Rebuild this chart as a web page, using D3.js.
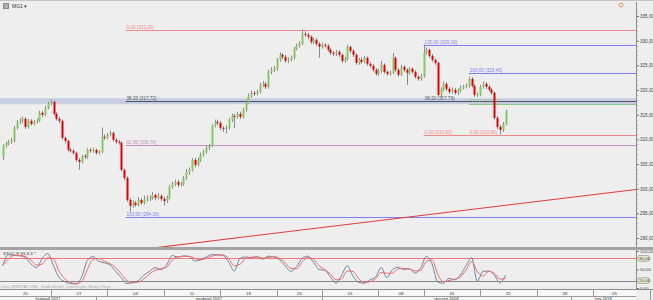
<!DOCTYPE html>
<html>
<head>
<meta charset="utf-8">
<script src="https://cdn.jsdelivr.net/npm/d3@7/dist/d3.min.js"></script>
<style>
body { margin: 0; background: #eeeeee; }
text { font-family: "Liberation Sans", Arial, sans-serif; }
</style>
</head>
<body>
<div id="chart"></div>
<script>
// candles, one every 2h slot (4 a day), first one sits in slot 3
var firstOpen = 306.6;
var closes = [308.67,309.08,309.48,309.69,312.32,313.54,313.74,314.15,312.52,313.74,
  313.13,313.54,313.74,315.36,314.96,316.38,317.19,317.60,315.16,314.15,
  313.74,310.29,309.69,307.86,307.66,307.25,305.83,305.43,306.64,306.44,
  307.86,307.66,307.86,307.25,307.45,310.50,310.29,310.90,311.31,309.89,
  309.48,309.28,303.80,302.18,297.72,296.50,297.11,296.71,297.72,297.11,
  297.72,297.92,298.13,298.73,298.13,298.53,297.92,297.52,298.13,300.36,
  300.96,301.37,300.76,300.96,302.18,303.40,303.80,305.83,304.82,305.83,
  306.85,307.45,308.27,308.67,312.73,313.54,313.34,312.32,312.12,312.32,
  313.94,314.76,314.55,315.16,314.55,315.97,317.60,318.81,319.42,319.22,
  319.62,321.04,321.24,320.64,323.68,324.08,324.29,326.11,327.13,326.72,
  325.91,326.11,326.52,328.34,328.95,329.36,331.39,331.18,330.78,329.76,
  330.17,329.36,328.75,329.15,328.95,328.14,327.53,327.33,327.73,327.13,
  325.91,326.31,328.75,327.94,327.13,325.50,326.11,325.71,326.52,325.30,
  324.89,324.08,323.27,323.88,325.10,323.68,323.27,323.48,326.52,324.08,
  323.07,324.69,324.08,323.48,324.29,323.68,322.66,322.26,322.87,327.53,
  328.14,326.92,326.11,325.50,319.01,320.03,321.24,320.23,319.62,320.03,
  319.42,319.83,320.43,320.64,320.84,322.26,320.84,319.01,319.01,320.64,
  321.24,320.64,320.03,319.42,314.35,312.52,311.92,313.13,315.72];
var highs = [309.0,309.5,309.9,310.3,312.7,313.9,314.3,314.6,314.5,314.1,
  314.1,313.9,314.2,315.8,315.7,316.8,317.6,318.0,317.8,315.5,
  314.6,314.0,310.6,309.9,308.3,308.0,307.5,306.2,306.9,307.0,
  308.2,308.2,308.3,308.1,307.8,312.4,311.0,311.3,311.8,311.6,
  310.2,309.9,309.6,304.1,302.5,298.1,297.6,297.5,298.3,298.1,
  298.6,298.6,298.6,299.3,299.0,299.1,298.9,298.4,298.6,300.8,
  301.4,301.8,301.8,301.4,302.6,304.0,304.3,306.2,306.2,306.3,
  307.3,307.9,308.6,309.1,313.0,314.0,314.0,313.7,312.7,312.8,
  314.3,315.2,315.2,315.6,315.6,316.4,318.0,319.3,319.9,319.8,
  320.1,321.5,321.8,321.6,324.1,324.6,324.8,326.5,327.6,327.5,
  327.1,326.6,327.0,328.7,329.4,329.9,332.3,331.9,331.6,331.1,
  330.6,330.5,329.7,329.6,329.5,329.3,328.5,327.9,328.1,328.1,
  327.4,326.7,329.2,329.0,328.3,327.4,326.5,326.6,326.9,326.8,
  325.7,325.3,324.4,324.3,325.9,325.4,324.0,323.9,327.5,326.8,
  324.4,325.1,325.0,324.4,324.7,324.6,324.0,323.0,323.3,329.2,
  328.6,328.4,327.3,326.4,325.8,320.5,321.7,321.6,320.6,320.5,
  320.4,320.3,320.9,321.1,321.3,322.7,322.6,321.2,319.5,321.0,
  321.7,321.6,321.0,320.4,319.7,314.7,312.9,313.5,316.0];
var lows = [305.8,308.3,308.8,309.1,309.4,312.0,313.1,313.4,312.1,312.2,
  312.8,312.8,313.2,313.5,314.5,314.7,316.1,316.9,314.8,313.8,
  313.3,310.0,309.2,307.5,307.3,306.9,305.4,303.8,305.1,306.0,
  306.1,307.3,307.3,306.9,306.9,307.2,309.9,310.0,310.6,309.5,
  309.1,308.9,303.5,301.7,297.3,295.3,296.1,296.3,296.4,296.7,
  296.8,297.4,297.5,297.8,297.6,297.8,297.5,296.6,297.1,297.9,
  300.0,300.5,300.3,300.4,300.6,301.8,302.8,303.5,304.3,304.5,
  305.4,306.5,307.1,307.8,308.4,312.4,312.9,311.9,311.5,311.2,
  312.0,313.5,312.3,314.2,314.1,314.2,315.6,317.3,318.4,318.8,
  318.9,319.3,320.6,320.2,320.3,323.2,323.7,323.9,325.7,326.3,
  325.5,325.5,325.8,326.2,328.0,328.6,329.1,330.7,330.3,329.3,
  329.3,328.9,326.5,328.4,328.6,327.8,327.1,326.9,326.9,326.7,
  325.5,325.5,326.0,327.5,326.7,325.1,325.1,325.3,325.4,324.9,
  324.5,323.7,322.9,322.9,323.5,323.3,322.9,322.9,323.2,323.7,
  322.7,322.8,323.7,321.0,323.1,323.3,322.3,321.9,321.9,322.5,
  327.2,326.5,325.7,325.1,318.6,318.5,319.7,319.8,319.2,319.2,
  319.0,319.0,319.5,320.1,320.3,320.5,320.5,318.6,318.6,318.7,
  320.3,320.2,319.7,319.0,314.0,312.1,311.0,311.5,312.8];

// stochastic, one reading every second slot starting at slot 3
var stochK = [60,90,88,87,82,65,55,80,93,60,
  28,17,12,11,30,75,85,72,68,62,
  45,28,12,15,20,35,45,55,50,62,
  88,83,87,85,73,76,84,90,90,88,
  70,46,80,84,82,85,78,86,84,76,
  60,45,58,80,86,70,50,48,30,13,
  35,60,32,15,13,22,30,55,28,50,
  56,50,52,40,55,86,65,16,13,26,
  22,35,60,82,18,45,46,35,14,35];
var stochD = [62,78,88,88,85,75,62,65,82,78,
  45,25,15,12,18,50,78,80,72,66,
  55,38,20,14,16,25,38,48,52,56,
  75,85,85,86,80,76,80,86,89,89,
  80,60,64,80,83,84,81,82,85,80,
  68,53,52,70,83,78,60,50,38,22,
  25,46,45,25,15,17,25,42,40,40,
  52,53,51,46,48,72,76,38,17,20,
  24,30,48,72,45,32,45,40,24,26];

// fibonacci levels: price, label, anchor slot
var fibPrices = [332.20, 317.72, 308.78, 294.30, 329.10, 317.79, 310.80, 323.40, 317.10, 310.80];
var fibLabels = ["0,00 (332,20)", "38,20 (317,72)", "61,80 (308,78)", "100,00 (294,30)",
  "100,00 (329,10)", "38,20 (317,79)", "0,00 (310,80)",
  "100,00 (323,40)", "50,00 (317,10)", "0,00 (310,80)"];
var fibStart = [46.5, 46.5, 46.5, 46.5, 152, 152, 152, 168, 168, 168];
var fibColors = ["#f08a8a", "#4d5363", "#c08ec4", "#7f7ff0", "#7f7ff0", "#4d5363", "#f08a8a", "#7f7ff0", "#8cc88c", "#f08a8a"];
var bandPrice = 317.72;

// trend line anchors
var trendSlots = [53.4, 227.2];
var trendPrices = [287.77, 299.82];

// time axis
var weekLabels = ["20", "27", "04", "11", "18", "25", "01", "08", "15", "22", "29", "05"];
var weekDays = [5, 5, 5, 5, 5, 4, 5, 4, 5, 5, 5, 5];
var monthLabels = ["listopad 2017", "grudzień 2017", "styczeń 2018", "luty 2018"];
var monthStart = [0, 36, 116, 204];

var W = 653, H = 300, plotRight = 636;
var mainTop = 2, mainBottom = 247, oscTop = 250, oscBottom = 289;

var svg = d3.select("#chart")
  .append("svg")
    .attr("width", W)
    .attr("height", H);

var x = d3.scaleLinear().domain([0, 232]).range([-5.8, 649.6]);
var y = d3.scaleLinear().domain([290, 335]).range([238, 16]);
var yOsc = d3.scaleLinear().domain([0, 100]).range([288, 251]);

function fmt(d) { return d.toFixed(2).replace(".", ","); }

var defs = svg.append("defs");
defs.append("clipPath").attr("id", "clipMain")
  .append("rect").attr("x", 0).attr("y", mainTop).attr("width", plotRight).attr("height", mainBottom - mainTop);
defs.append("clipPath").attr("id", "clipOsc")
  .append("rect").attr("x", 0).attr("y", oscTop).attr("width", plotRight).attr("height", oscBottom - oscTop);

// backgrounds
svg.append("rect").attr("width", W).attr("height", H).attr("fill", "#eeeeee");
svg.append("line").attr("x1", 0).attr("x2", W).attr("y1", 0.5).attr("y2", 0.5).attr("stroke", "#c4c4c4");

var main = svg.append("g").attr("clip-path", "url(#clipMain)");

// horizontal zone
main.append("rect")
  .attr("x", 0).attr("width", plotRight)
  .attr("y", y(bandPrice) - 3).attr("height", 6)
  .attr("fill", "#c7cce0");

// fib lines + labels
fibPrices.forEach(function(p, i) {
  var yy = Math.round(y(p)) + 0.5;
  main.append("line")
    .attr("x1", x(fibStart[i])).attr("x2", plotRight)
    .attr("y1", yy).attr("y2", yy)
    .attr("stroke", fibColors[i]).attr("stroke-width", 1);
  main.append("text")
    .attr("x", x(fibStart[i]) + 1).attr("y", yy - 1.5)
    .attr("font-size", 4.6)
    .attr("fill", fibColors[i])
    .text(fibLabels[i]);
});

// trend line
main.append("line")
  .attr("x1", x(trendSlots[0])).attr("y1", y(trendPrices[0]))
  .attr("x2", x(trendSlots[1])).attr("y2", y(trendPrices[1]))
  .attr("stroke", "#e23b3b").attr("stroke-width", 1.1);

// candles
var bars = closes.map(function(c, i) {
  return {slot: 3 + i, open: i == 0 ? firstOpen : closes[i - 1], close: c, high: highs[i], low: lows[i]};
});

var candle = main.append("g").selectAll("g")
  .data(bars)
  .enter()
  .append("g");

candle.append("line")
  .attr("x1", function(d) { return Math.round(x(d.slot)) + 0.5; })
  .attr("x2", function(d) { return Math.round(x(d.slot)) + 0.5; })
  .attr("y1", function(d) { return y(d.high); })
  .attr("y2", function(d) { return y(d.low); })
  .attr("stroke", "#8a8a8a");

candle.append("rect")
  .attr("x", function(d) { return Math.round(x(d.slot)) - 0.5; })
  .attr("width", 2)
  .attr("y", function(d) { return y(Math.max(d.open, d.close)); })
  .attr("height", function(d) { return Math.max(1, Math.abs(y(d.open) - y(d.close))); })
  .attr("fill", function(d) { return d.close >= d.open ? "#86c863" : "#e00000"; });

// price axis
var yAxis = svg.append("g")
  .attr("transform", "translate(" + plotRight + ",0)")
  .call(d3.axisRight(y).tickValues(d3.range(290, 336, 5)).tickSize(3).tickFormat(fmt));
yAxis.select(".domain").remove();
yAxis.selectAll("line").attr("stroke", "#777");
yAxis.selectAll("text").attr("font-size", 4.6).attr("fill", "#444").attr("x", 4);

svg.append("g")
  .attr("transform", "translate(" + plotRight + ",0)")
  .selectAll("line")
  .data(d3.range(288, 337, 1))
  .enter().append("line")
  .attr("x1", 0).attr("x2", 1.5)
  .attr("y1", function(d) { return Math.round(y(d)) + 0.5; })
  .attr("y2", function(d) { return Math.round(y(d)) + 0.5; })
  .attr("stroke", "#888");

svg.append("line")
  .attr("x1", plotRight + 0.5).attr("x2", plotRight + 0.5)
  .attr("y1", mainTop).attr("y2", oscBottom)
  .attr("stroke", "#8c8c8c");

// panel separator
svg.append("rect").attr("x", 0).attr("width", W).attr("y", mainBottom).attr("height", 3).attr("fill", "#a3a3a3");

// oscillator panel
var osc = svg.append("g").attr("clip-path", "url(#clipOsc)");

osc.append("line")
  .attr("x1", 0).attr("x2", plotRight)
  .attr("y1", Math.round(yOsc(80)) + 0.5).attr("y2", Math.round(yOsc(80)) + 0.5)
  .attr("stroke", "#f07878");
osc.append("line")
  .attr("x1", 0).attr("x2", plotRight)
  .attr("y1", Math.round(yOsc(20)) + 0.5).attr("y2", Math.round(yOsc(20)) + 0.5)
  .attr("stroke", "#8a8a8a");

var oscLine = d3.line()
  .x(function(d, i) { return x(3 + 2 * i); })
  .y(function(d) { return yOsc(d); })
  .curve(d3.curveMonotoneX);

osc.append("path").datum(stochK)
  .attr("d", oscLine).attr("fill", "none")
  .attr("stroke", "#6f86a6").attr("stroke-width", 1);
osc.append("path").datum(stochD)
  .attr("d", oscLine).attr("fill", "none")
  .attr("stroke", "#f06a6a").attr("stroke-width", 1);

svg.append("text")
  .attr("x", 3).attr("y", 254.5)
  .attr("font-size", 4.4).attr("fill", "#333")
  .text("STOC-F 55,3,3 *");
svg.append("text")
  .attr("x", 1).attr("y", 288)
  .attr("font-size", 3.6).attr("fill", "#a8a8a8")
  .text("Ceny ORIENTACYJNE - Źródło danych: Copenhagen, Madryt, Paryż");

// oscillator axis
var oAxis = svg.append("g")
  .attr("transform", "translate(" + plotRight + ",0)")
  .call(d3.axisRight(yOsc).tickValues([0, 50, 100]).tickSize(3).tickFormat(fmt));
oAxis.select(".domain").remove();
oAxis.selectAll("line").attr("stroke", "#777");
oAxis.selectAll("text").attr("font-size", 4.4).attr("fill", "#444").attr("x", 4);

var boxed = svg.append("g").selectAll("g")
  .data([80, 20])
  .enter().append("g")
  .attr("transform", function(d) { return "translate(" + (plotRight + 2) + "," + yOsc(d) + ")"; });
boxed.append("rect")
  .attr("x", 0).attr("y", -2.8).attr("width", 11).attr("height", 5.6).attr("rx", 1)
  .attr("fill", "#f3f1d2").attr("stroke", "#7a7a6a").attr("stroke-width", 0.6);
boxed.append("text")
  .attr("x", 1.2).attr("y", 1.6)
  .attr("font-size", 4.4).attr("fill", "#333")
  .text(fmt);

svg.append("line").attr("x1", 0).attr("x2", W).attr("y1", oscBottom + 0.5).attr("y2", oscBottom + 0.5).attr("stroke", "#8c8c8c");

// time axis rows
var rowTop = oscBottom + 1, rowMid = 296, rowBottom = 300;
svg.append("rect").attr("x", 0).attr("y", rowTop).attr("width", plotRight).attr("height", rowBottom - rowTop).attr("fill", "#f7f7f7");
svg.append("line").attr("x1", 0).attr("x2", plotRight).attr("y1", rowMid + 0.5).attr("y2", rowMid + 0.5).attr("stroke", "#9a9a9a");

var weekStart = [0].concat(Array.from(d3.cumsum(weekDays, function(d) { return d * 4; })));
var weeks = weekLabels.map(function(l, i) { return {label: l, s0: weekStart[i], s1: weekStart[i + 1]}; });

var wk = svg.append("g").selectAll("g").data(weeks).enter().append("g");
wk.append("line")
  .attr("x1", function(d) { return Math.round(x(d.s1)) + 0.5; })
  .attr("x2", function(d) { return Math.round(x(d.s1)) + 0.5; })
  .attr("y1", rowTop).attr("y2", rowMid)
  .attr("stroke", "#9a9a9a");
wk.append("text")
  .attr("x", function(d) { return (Math.max(0, x(d.s0)) + Math.min(plotRight, x(d.s1))) / 2; })
  .attr("y", rowMid - 1.3)
  .attr("text-anchor", "middle")
  .attr("font-size", 4.4).attr("fill", "#333")
  .text(function(d) { return d.label; });

var months = monthLabels.map(function(l, i) {
  return {label: l, s0: monthStart[i], s1: i + 1 < monthStart.length ? monthStart[i + 1] : 232};
});
var mo = svg.append("g").selectAll("g").data(months).enter().append("g");
mo.append("line")
  .attr("x1", function(d) { return Math.round(x(d.s1)) + 0.5; })
  .attr("x2", function(d) { return Math.round(x(d.s1)) + 0.5; })
  .attr("y1", rowMid).attr("y2", rowBottom)
  .attr("stroke", "#9a9a9a");
mo.append("text")
  .attr("x", function(d) { return (Math.max(0, x(d.s0)) + Math.min(plotRight, x(d.s1))) / 2; })
  .attr("y", rowBottom - 0.4)
  .attr("text-anchor", "middle")
  .attr("font-size", 4.2).attr("fill", "#333")
  .text(function(d) { return d.label; });

// header
var head = svg.append("g").attr("transform", "translate(3,3)");
head.append("rect").attr("width", 6).attr("height", 6).attr("fill", "#8a8a8a");
head.append("path").attr("d", "M1,2H5M1,4H5").attr("stroke", "#eee").attr("stroke-width", 0.7);
head.append("text").attr("x", 9).attr("y", 5.2).attr("font-size", 5).attr("fill", "#333").text("MG1 ▾");

svg.append("circle").attr("cx", 621).attr("cy", 5).attr("r", 2).attr("fill", "none").attr("stroke", "#c98a3a").attr("stroke-width", 0.8);
</script>
</body>
</html>
